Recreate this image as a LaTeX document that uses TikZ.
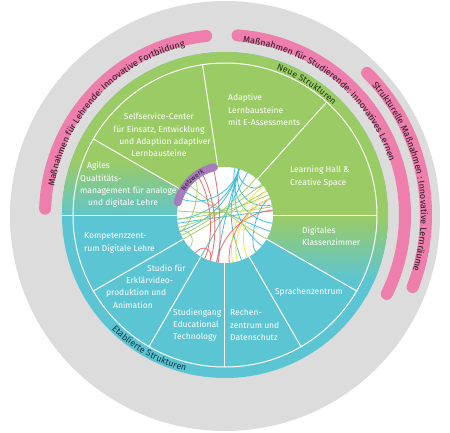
\documentclass[tikz,border=0pt]{standalone}
\usepackage{fontspec}
\setmainfont{Fira Sans}
\usetikzlibrary{decorations.text}
\definecolor{cgreen}{HTML}{9BCB64}
\definecolor{cteal}{HTML}{5CC5D3}
\definecolor{cpink}{HTML}{EE7EAB}
\definecolor{cgray}{HTML}{DCDCDC}
\definecolor{cpurple}{HTML}{A67CBD}
\definecolor{ctxt}{HTML}{2A1A26}
\definecolor{cgtxt}{HTML}{1E3514}
\definecolor{cttxt}{HTML}{0D3640}
\definecolor{nteal}{HTML}{45BFD8}
\definecolor{ngreen}{HTML}{A5CF6E}
\definecolor{nred}{HTML}{EE6B6B}
\definecolor{nyellow}{HTML}{F0E54A}
\begin{document}
\begin{tikzpicture}[x=1pt,y=1pt,
  seg/.style={text=white, font=\fontsize{8.5}{12.3}\selectfont, inner sep=0pt},
  divider/.style={white, line width=1pt},
  band/.style={cpink, line width=12pt, line cap=round},
  nt/.style={line width=0.8pt},
]
\useasboundingbox (-225,-217) rectangle (225,215);
\fill[cgray] (0,-1) circle (215);
% pink bands
\draw[band] (178:180) arc[start angle=178,end angle=96,radius=180];
\draw[band] (86:180) arc[start angle=86,end angle=-26,radius=180];
\draw[band] (45:201) arc[start angle=45,end angle=-21,radius=201];
% disc
\fill[cteal] (0,0) circle (163);
\fill[cgreen] (0:48) -- (0:163) arc[start angle=0,end angle=150,radius=163] -- (150:48) arc[start angle=150,end angle=0,radius=48] -- cycle;
\begin{scope}
\clip (150:48) -- (150:163) arc[start angle=150,end angle=180,radius=163] -- (180:48) arc[start angle=180,end angle=150,radius=48] -- cycle;
\fill[cgreen] (-170,-5) rectangle (0,90);
\shade[top color=cgreen,bottom color=cteal] (-170,-5) rectangle (0,55);
\end{scope}
\begin{scope}
\clip (-30:48) -- (-30:163) arc[start angle=-30,end angle=0,radius=163] -- (0:48) arc[start angle=0,end angle=-30,radius=48] -- cycle;
\fill[cteal] (0,-90) rectangle (170,5);
\shade[top color=cgreen,bottom color=cteal] (0,-65) rectangle (170,0);
\end{scope}
% ring and dividers
\draw[divider] (0,0) circle (152);
\foreach \a in {150,98.5,48,0,-30,-60,-90,-120,-150}
  \draw[divider] (\a:48) -- (\a:152);
\draw[divider] (180:48) -- (180:163);
% network
\fill[white] (0,0) circle (48);
\foreach \a/\b/\c in {73/12/25,73/38/35,73/-40/15,73/-70/10,73/-100/10,73/200/15,73/185/18,73/160/22,190/5/30,62/-120/12,20/-50/35,150/-20/20,78/-10/20}
  \draw[nteal,nt] (\a:48) .. controls (\a:\c) and (\b:\c) .. (\b:48);
\foreach \a/\b/\c in {195/40/15,185/25/15,205/50/18,130/200/35,200/222/38,175/10/12,140/-30/18,210/30/20}
  \draw[ngreen,nt] (\a:48) .. controls (\a:\c) and (\b:\c) .. (\b:48);
\foreach \a/\b/\c in {119/-108/20,104/-98/22,125/-115/24,6/-100/20,232/252/36,20/-85/22}
  \draw[nred,nt] (\a:48) .. controls (\a:\c) and (\b:\c) .. (\b:48);
\foreach \a/\b/\c in {37/-81/18,20/-75/22,30/-62/26}
  \draw[nyellow,nt] (\a:48) .. controls (\a:\c) and (\b:\c) .. (\b:48);
% Netzwerk
\draw[cpurple, line width=8pt, line cap=round] (165:49) arc[start angle=165,end angle=103,radius=49];
\path[decorate, decoration={text along path, text align=center, text color=ctxt,
  text={|\fontsize{6.5}{7}\selectfont|Netzwerk}}] (175:46.8) arc[start angle=175,end angle=91,radius=46.8];
% band texts
\path[decorate, decoration={text along path, text align=center, text color=ctxt,
  text={|\fontsize{9}{10}\selectfont|Maßnahmen für Lehrende: Innovative Fortbildung}}]
  (177:173) arc[start angle=177,end angle=97,radius=173];
\path[decorate, decoration={text along path, text align=center, text color=ctxt,
  text={|\fontsize{9}{10}\selectfont|Maßnahmen für Studierende: Innovatives Lernen}}]
  (91:173) arc[start angle=91,end angle=11,radius=173];
\path[decorate, decoration={text along path, text align=center, text color=ctxt,
  text={|\fontsize{9}{10}\selectfont|Strukturelle Maßnahmen : Innovative Lernräume}}]
  (52:196) arc[start angle=52,end angle=-27,radius=196];
\path[decorate, decoration={text along path, text align=center, text color=cgtxt,
  text={|\fontsize{9}{10}\selectfont|Neue Strukturen}}]
  (80:154) arc[start angle=80,end angle=36,radius=154];
\path[decorate, decoration={text along path, text align=center, text color=cttxt,
  text={|\fontsize{9}{10}\selectfont|Etablierte Strukturen}}]
  (-150:161) arc[start angle=-150,end angle=-89,radius=161];
% segment texts
\node[seg, align=center] (t1) at (-66,80) {Selfservice-Center\\für Einsatz, Entwicklung\\\hspace*{12pt}und Adaption adaptiver\\Lernbausteine};
\node[seg, align=left, anchor=west] (t2) at (3,105) {Adaptive\\Lernbausteine\\mit E-Assessments};
\node[seg, align=left, anchor=west] (t3) at (65,38.5) {Learning Hall \&\\Creative Space};
\node[seg, align=left, anchor=west] (t4) at (-145,30) {\hspace*{7pt}Agiles\\Qualtitäts-\\management für analoge\\\hspace*{8pt}und digitale Lehre};
\node[seg, align=left, anchor=west] (t5) at (-141,-28) {Kompetenzzent-\\rum Digitale Lehre};
\node[seg, align=left, anchor=west] (t6) at (-119,-71.5) {\hspace*{41pt}Studio für\\\hspace*{20pt}Erklärvideo-\\produktion und\\\hspace*{7pt}Animation};
\node[seg, align=left, anchor=west] (t7) at (-52,-110) {Studiengang\\Educational\\Technology};
\node[seg, align=left, anchor=west] (t8) at (5,-110) {Rechen-\\zentrum und\\Datenschutz};
\node[seg] (t9) at (84,-77) {Sprachenzentrum};
\node[seg, align=left, anchor=west] (t10) at (77,-21) {Digitales\\Klassenzimmer};
\end{tikzpicture}
\end{document}
